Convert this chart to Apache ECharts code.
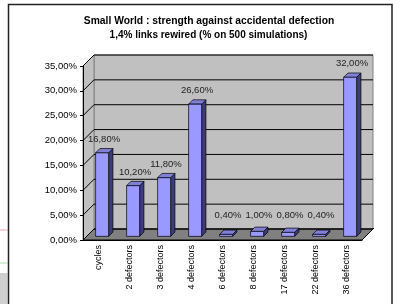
<!DOCTYPE html>
<html>
<head>
<meta charset="utf-8">
<script src="https://cdn.jsdelivr.net/npm/echarts@6/dist/echarts.min.js"></script>
<style>
  html, body { margin: 0; padding: 0; background: #fff; }
  #chart { width: 400px; height: 304px; }
</style>
</head>
<body>
<div id="chart"></div>
<script>
  var categories = ['cycles', '2 defectors', '3 defectors', '4 defectors', '6 defectors',
    '8 defectors', '17 defectors', '22 defectors', '36 defectors'];
  // share of simulations, in %
  var shares = [16.8, 10.2, 11.8, 26.6, 0.4, 1.0, 0.8, 0.4, 32.0];
  var yTicks = [0, 5, 10, 15, 20, 25, 30, 35];

  var FONT = '"Liberation Sans", Arial, sans-serif';
  var DX = 11, DY = -11;     // depth of the 3d box
  var F0 = 0.33, F1 = 0.72;  // bar front / back position in the depth

  function pct(v) {
    return v.toFixed(2).replace('.', ',') + '%';
  }

  function renderWalls(params, api) {
    var cs = params.coordSys;
    var x0 = cs.x, x1 = cs.x + cs.width, yTop = cs.y, yBot = cs.y + cs.height;
    var line = { stroke: '#000', lineWidth: 1 };
    var kids = [
      // back wall
      { type: 'polygon', shape: { points: [[x0 + DX, yTop + DY], [x1 + DX, yTop + DY], [x1 + DX, yBot + DY], [x0 + DX, yBot + DY]] },
        style: { fill: '#c0c0c0', stroke: '#808080', lineWidth: 1 } },
      // left wall
      { type: 'polygon', shape: { points: [[x0, yTop], [x0 + DX, yTop + DY], [x0 + DX, yBot + DY], [x0, yBot]] },
        style: { fill: '#c0c0c0', stroke: '#808080', lineWidth: 1 } },
      // floor
      { type: 'polygon', shape: { points: [[x0, yBot], [x0 + DX, yBot + DY], [x1 + DX, yBot + DY], [x1, yBot]] },
        style: { fill: '#808080', stroke: '#000', lineWidth: 1 } }
    ];
    yTicks.forEach(function (t) {
      var y = api.coord([0, t])[1];
      kids.push({ type: 'line', shape: { x1: x0 + DX, y1: y + DY, x2: x1 + DX, y2: y + DY }, style: line });
      kids.push({ type: 'line', shape: { x1: x0, y1: y, x2: x0 + DX, y2: y + DY }, style: line });
    });
    kids.push({ type: 'line', shape: { x1: x1, y1: yBot, x2: x1 + DX + 1, y2: yBot + DY - 1 }, style: line });
    return { type: 'group', children: kids };
  }

  function renderBar(params, api) {
    var idx = api.value(0), v = api.value(1);
    var base = api.coord([idx, 0]);
    var top = api.coord([idx, v]);
    var w = api.size([1, 0])[0] * 0.42;
    var fx = DX * F0, fy = DY * F0;
    var bx = DX * F1, by = DY * F1;
    var xl = base[0] - w / 2 + fx, xr = xl + w;
    var yb = base[1] + fy, yt = top[1] + fy;
    var dx = bx - fx, dy = by - fy;
    var edge = { stroke: '#000', lineWidth: 0.7 };
    var labelY = Math.min(yt - 13.5, base[1] - 25);
    return {
      type: 'group',
      children: [
        { type: 'polygon', shape: { points: [[xr, yt], [xr + dx, yt + dy], [xr + dx, yb + dy], [xr, yb]] },
          style: Object.assign({ fill: '#3c3c78' }, edge) },
        { type: 'polygon', shape: { points: [[xl, yt], [xl + dx, yt + dy], [xr + dx, yt + dy], [xr, yt]] },
          style: Object.assign({ fill: '#8080d8' }, edge) },
        { type: 'rect', shape: { x: xl, y: yt, width: w, height: yb - yt },
          style: Object.assign({ fill: '#9999ff' }, edge) },
        { type: 'text', x: base[0] + 5.5, y: labelY,
          style: { text: pct(v), fill: '#222', font: '9.5px ' + FONT, align: 'center', verticalAlign: 'middle' } }
      ]
    };
  }

  var chart = echarts.init(document.getElementById('chart'));
  chart.setOption({
    animation: false,
    grid: { left: 83, right: 38, top: 66, bottom: 64 },
    graphic: [
      { type: 'rect', shape: { x: 8.5, y: 4.5, width: 383.5, height: 320 }, style: { fill: 'none', stroke: '#222', lineWidth: 1.5 }, z: 100 },
      { type: 'line', shape: { x1: 0, y1: 230, x2: 7.5, y2: 230 }, style: { stroke: '#e8a8b0', lineWidth: 1 } },
      { type: 'line', shape: { x1: 0, y1: 263, x2: 7.5, y2: 263 }, style: { stroke: '#a8e0a8', lineWidth: 1 } },
      { type: 'rect', shape: { x: 0, y: 273, width: 7.5, height: 31 }, style: { fill: '#cfcfcf' } },
      { type: 'text', x: 209, y: 21, style: { text: 'Small World : strength against accidental defection', font: 'bold 10.3px ' + FONT, fill: '#000', align: 'center', verticalAlign: 'middle' } },
      { type: 'text', x: 208.5, y: 35, style: { text: '1,4% links rewired (% on 500 simulations)', font: 'bold 10px ' + FONT, fill: '#000', align: 'center', verticalAlign: 'middle' } }
    ],
    xAxis: {
      type: 'category',
      data: categories,
      axisLine: { lineStyle: { color: '#000', width: 1 } },
      axisTick: { length: 3, lineStyle: { color: '#000' } },
      axisLabel: { rotate: 90, margin: 5, fontSize: 9, fontFamily: FONT, color: '#000', interval: 0 },
      splitLine: { show: false }
    },
    yAxis: {
      type: 'value',
      min: 0,
      max: 35,
      interval: 5,
      axisLine: { show: true, lineStyle: { color: '#000', width: 1 } },
      axisTick: { show: true, length: 3, lineStyle: { color: '#000' } },
      axisLabel: { margin: 6, fontSize: 9.5, fontFamily: FONT, color: '#000', formatter: pct },
      splitLine: { show: false }
    },
    series: [
      {
        type: 'custom',
        name: 'walls',
        silent: true,
        z: -1,
        renderItem: renderWalls,
        data: [[0, 0]]
      },
      {
        type: 'custom',
        name: 'share',
        renderItem: renderBar,
        data: shares.map(function (v, i) { return [i, v]; })
      }
    ]
  });
</script>
</body>
</html>
